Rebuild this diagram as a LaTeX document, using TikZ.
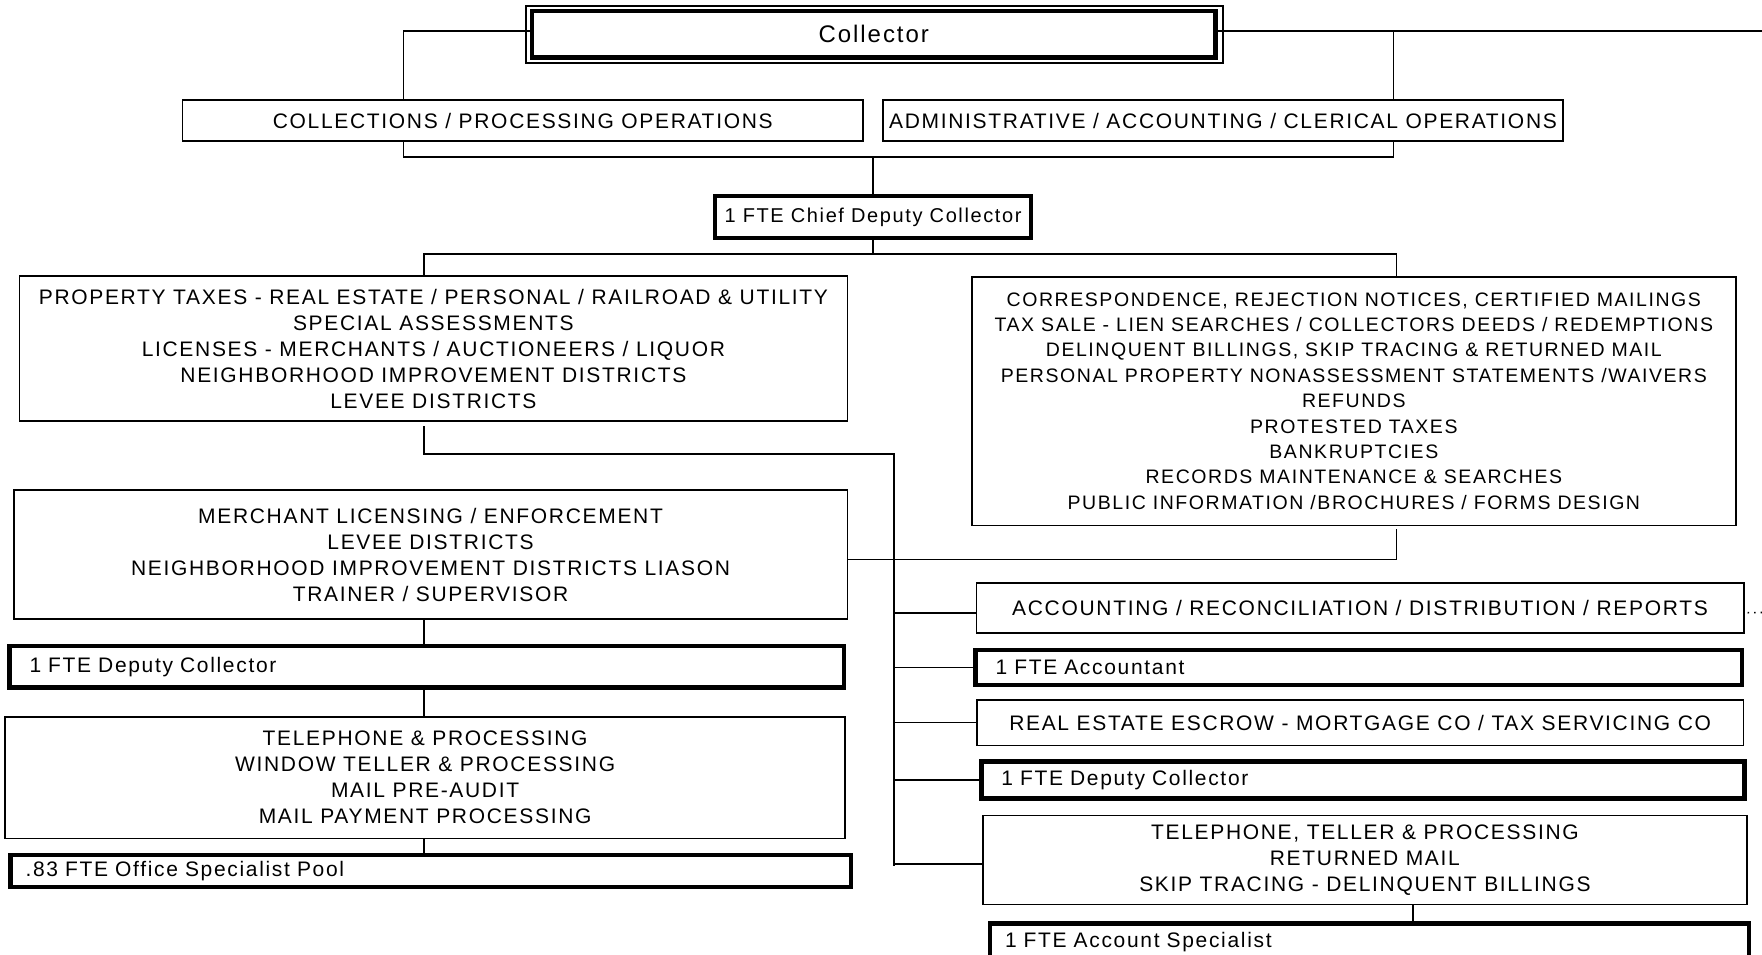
\documentclass[tikz,border=0pt]{standalone}
\usepackage{fontspec}
\setmainfont{Liberation Sans}[LetterSpace=8]
\usetikzlibrary{positioning}

\newcommand{\fsz}[2]{\fontsize{#1}{#2}\selectfont}

\begin{document}
\begin{tikzpicture}[x=1pt,y=-1pt,line width=1.6pt,
	box/.style={draw,line width=1.6pt,inner sep=0pt,outer sep=0pt,align=center,font=\fsz{21}{26}},
	fte/.style={box,line width=4.5pt},
	ftel/.style={fte,align=left}]
	\useasboundingbox (0,0) rectangle (1762,955);
	\clip (0,0) rectangle (1762,955);

	\node[fte,minimum width=683.5pt,minimum height=46.5pt,font=\fsz{24}{28}] (coll) at (873.75,34.25) {Collector};
	\draw[line width=1.2pt] ([shift={(-6pt,5pt)}]coll.north west) rectangle ([shift={(7.5pt,-5.5pt)}]coll.south east);
	\node[box,minimum width=680.5pt,minimum height=41pt] (colops) at (522.75,120.5) {COLLECTIONS / PROCESSING OPERATIONS};
	\node[box,minimum width=680pt,minimum height=41pt] (admops) at (1223,120.5) {ADMINISTRATIVE / ACCOUNTING / CLERICAL OPERATIONS};
	\node[fte,minimum width=316pt,minimum height=42pt,font=\fsz{20}{26}] (chief) at (873,217) {1 FTE Chief Deputy Collector};

	\node[box,minimum width=827.8pt,minimum height=145pt] (prop) at (433.4,348.5) {PROPERTY TAXES - REAL ESTATE / PERSONAL / RAILROAD \& UTILITY\\SPECIAL ASSESSMENTS\\LICENSES - MERCHANTS / AUCTIONEERS / LIQUOR\\NEIGHBORHOOD IMPROVEMENT DISTRICTS\\LEVEE DISTRICTS};
	\node[box,minimum width=764.3pt,minimum height=248.6pt,font=\fsz{19.5}{25.4}] (corr) at (1353.85,401) {CORRESPONDENCE, REJECTION NOTICES, CERTIFIED MAILINGS\\TAX SALE - LIEN SEARCHES / COLLECTORS DEEDS / REDEMPTIONS\\DELINQUENT BILLINGS, SKIP TRACING \& RETURNED MAIL\\PERSONAL PROPERTY NONASSESSMENT STATEMENTS /WAIVERS\\REFUNDS\\PROTESTED TAXES\\BANKRUPTCIES\\RECORDS MAINTENANCE \& SEARCHES\\PUBLIC INFORMATION /BROCHURES / FORMS DESIGN};

	\node[box,minimum width=833.5pt,minimum height=129pt] (merch) at (430.55,554.5) {MERCHANT LICENSING / ENFORCEMENT\\LEVEE DISTRICTS\\NEIGHBORHOOD IMPROVEMENT DISTRICTS LIASON\\TRAINER / SUPERVISOR};
	\node[ftel,text width=794.5pt,inner xsep=20pt,minimum height=41.5pt] (depl) at (426.75,666.75) {1 FTE Deputy Collector};
	\node[box,minimum width=839.8pt,minimum height=121.6pt] (telel) at (425.1,777.5) {TELEPHONE \& PROCESSING\\WINDOW TELLER \& PROCESSING\\MAIL PRE-AUDIT\\MAIL PAYMENT PROCESSING};
	\node[ftel,text width=810.2pt,inner xsep=15pt,minimum height=32pt] (office) at (430.7,871) {.83 FTE Office Specialist Pool};

	\node[box,minimum width=767.4pt,minimum height=50pt] (acct) at (1360,607.7) {ACCOUNTING / RECONCILIATION / DISTRIBUTION / REPORTS};
	\node[ftel,text width=726.4pt,inner xsep=20pt,minimum height=35pt] (accnt) at (1358.8,667.5) {1 FTE Accountant};
	\node[box,minimum width=766.65pt,minimum height=45.3pt] (escrow) at (1360.1,722.65) {REAL ESTATE ESCROW - MORTGAGE CO / TAX SERVICING CO};
	\node[ftel,text width=723.1pt,inner xsep=20pt,minimum height=37.4pt] (depr) at (1363,780) {1 FTE Deputy Collector};
	\node[box,minimum width=763.8pt,minimum height=89pt] (teler) at (1364.9,859.8) {TELEPHONE, TELLER \& PROCESSING\\RETURNED MAIL\\SKIP TRACING - DELINQUENT BILLINGS};
	\node[ftel,text width=729pt,inner xsep=15pt,minimum height=36pt] (spec) at (1369.5,941.7) {1 FTE Account Specialist};

	\coordinate (jl) at (403.6,31);
	\coordinate (jr) at (1393.6,31);
	\coordinate (e1) at (1762,31);
	\coordinate (jh) at (874,157.3);
	\coordinate (jc) at (874,254);
	\coordinate (lc) at (424,454);
	\coordinate (rc) at (1396.4,559.5);
	\coordinate (bus) at (893.7,454);
	\coordinate (busend) at (893.7,865.7);
	\coordinate (sc) at (1413,914);
	\coordinate (e2) at (1762,612.5);

	\draw (coll.west |- jl) -- (jl) -- (jl |- colops.north);
	\draw (coll.east |- jr) -- (e1);
	\draw (jr) -- (jr |- admops.north);
	\draw (jl |- colops.south) |- (jr |- jh) -- (jr |- admops.south);
	\draw (chief.north) -- (chief.north |- jh);
	\draw (chief.south) -- (chief.south |- jc);
	\draw (lc |- prop.north) |- (rc |- jc) -- (rc |- corr.north);
	\draw ([yshift=-5pt]lc |- prop.south) -- (lc) -- (bus) -- (busend);
	\draw ([yshift=-5pt]merch.east) -| ([yshift=-4pt]rc |- corr.south);

	\draw (lc |- merch.south) -- (lc |- depl.north);
	\draw (lc |- depl.south) -- (lc |- telel.north);
	\draw (lc |- telel.south) -- (lc |- office.north);

	\draw ([yshift=-5pt]bus |- acct.west) -- ([yshift=-5pt]acct.west);
	\draw (bus |- accnt.west) -- (accnt.west);
	\draw (bus |- escrow.west) -- (escrow.west);
	\draw (bus |- depr.west) -- (depr.west);
	\draw ([yshift=-4pt]bus |- teler.west) -- ([yshift=-4pt]teler.west);
	\draw (sc |- teler.south) -- (sc |- spec.north);
	\draw[dash pattern=on 1.5pt off 5pt] ([xshift=4pt,yshift=-5pt]acct.east) -- (e2);
\end{tikzpicture}
\end{document}
